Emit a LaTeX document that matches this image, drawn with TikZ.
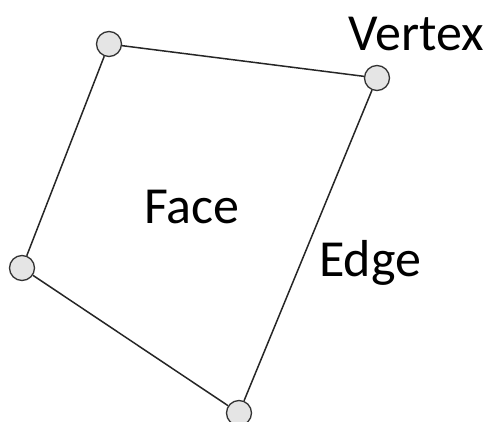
\documentclass[tikz,border=0pt]{standalone}
\usepackage{fontspec}
\setmainfont{Carlito}
\usetikzlibrary{positioning}

\tikzset{
  vert/.style={circle,draw=black!80,fill=black!10,line width=1.3pt,minimum size=25pt,inner sep=0pt},
  edgeline/.style={line width=1.5pt,black!85},
  lbl/.style={font=\fontsize{52}{62}\selectfont,inner sep=0pt,anchor=base west}
}

\begin{document}
\begin{tikzpicture}[x=1pt,y=-1pt]
  \useasboundingbox (0,0) rectangle (488,421);
  % corners of the face
  \node[vert] (v1) at (109,44) {};
  \node[vert] (v2) at (377,78) {};
  \node[vert] (v3) at (239,413) {};
  \node[vert] (v4) at (22,268) {};
  \draw[edgeline] (v1)--(v2);
  \draw[edgeline] (v2)--(v3);
  \draw[edgeline] (v3)--(v4);
  \draw[edgeline] (v4)--(v1);
  % labels
  \node[lbl] (vertexlbl) at (348,50) {Vertex};
  \node[lbl] (facelbl) at (144,223) {Face};
  \node[lbl] (edgelbl) at (319,276) {Edge};
\end{tikzpicture}
\end{document}
